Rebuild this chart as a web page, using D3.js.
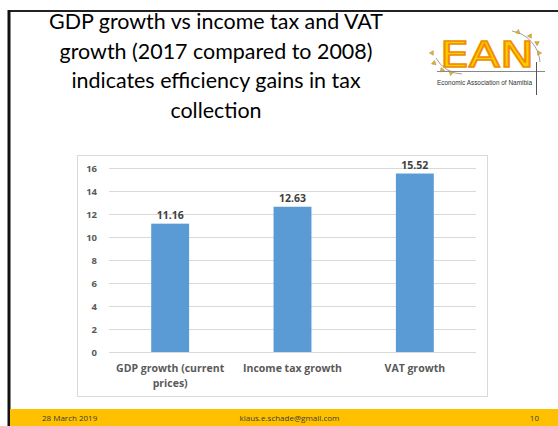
<!DOCTYPE html>
<html><head><meta charset="utf-8">
<script src="https://cdn.jsdelivr.net/npm/d3@7"></script>
<style>body{margin:0;background:#fff}svg{display:block}</style>
</head><body>
<svg id="c" width="558" height="426"></svg>
<script>
const titleLines = ["GDP growth vs income tax and VAT", "growth (2017 compared to 2008)", "indicates efficiency gains in tax", "collection"];
const categories = [["GDP growth (current", "prices)"], ["Income tax growth"], ["VAT growth"]];
const values = [11.16, 12.63, 15.52];
const valueLabels = ["11.16", "12.63", "15.52"];
const yTicks = [0, 2, 4, 6, 8, 10, 12, 14, 16];
const footer = ["28 March 2019", "klaus.e.schade@gmail.com", "10"];
const logoText = "Economic Association of Namibia";

const svg = d3.select("#c");
const font = "Lato, 'Open Sans', sans-serif";

// slide frame
svg.append("line").attr("x1", 9).attr("x2", 558).attr("y1", 11).attr("y2", 11).attr("stroke", "#222").attr("stroke-width", 2);
svg.append("line").attr("x1", 9).attr("x2", 9).attr("y1", 10).attr("y2", 426).attr("stroke", "#111").attr("stroke-width", 3);

// title
const tg = svg.append("g");
const t0 = tg.append("text").attr("font-family", font).attr("font-size", 22).text(titleLines[0]);
const w0 = t0.node().getComputedTextLength();
t0.remove();
const tSize = 22 * 334 / w0;
titleLines.forEach((l, i) => {
  tg.append("text").attr("x", 216).attr("y", 29 + i * 29.7).attr("text-anchor", "middle")
    .attr("font-family", font).attr("font-size", tSize).attr("fill", "#000").text(l);
});

// logo
const lg = svg.append("g");
lg.append("path").attr("d", "M436,58 A30,30 0 0 0 462,74").attr("fill", "none").attr("stroke", "#888").attr("stroke-width", 0.8);
lg.append("path").attr("d", "M512,31 A34,34 0 0 1 540,62").attr("fill", "none").attr("stroke", "#888").attr("stroke-width", 0.8);
lg.append("line").attr("x1", 437).attr("x2", 545).attr("y1", 71.5).attr("y2", 71.5).attr("stroke", "#888").attr("stroke-width", 1);
lg.append("line").attr("x1", 536.5).attr("x2", 536.5).attr("y1", 62).attr("y2", 95).attr("stroke", "#555").attr("stroke-width", 1);
lg.append("text").attr("x", 487).attr("y", 67).attr("text-anchor", "middle").attr("font-family", "'DejaVu Sans', sans-serif")
  .attr("font-size", 35).attr("fill", "#ffcc00").attr("stroke", "#f08c00").attr("stroke-width", 1.6).attr("textLength", 94).attr("lengthAdjust", "spacingAndGlyphs").text("EAN");
[[432,53,-90],[434,63,-110],[442,70,-140],[451,73,-170],[518,32,10],[530,36,30],[537,43,60],[539,53,90]].forEach(p => {
  lg.append("path").attr("d", d3.symbol(d3.symbolTriangle, 9)()).attr("transform", `translate(${p[0]},${p[1]}) rotate(${p[2]})`).attr("fill", "#f5b400").attr("stroke", "#777").attr("stroke-width", 0.4);
});
lg.append("text").attr("x", 484.5).attr("y", 84.5).attr("text-anchor", "middle").attr("font-family", "'Liberation Sans Narrow', 'Liberation Sans', sans-serif")
  .attr("font-size", 6.5).attr("fill", "#333").attr("textLength", 95).attr("lengthAdjust", "spacingAndGlyphs").text(logoText);

// chart box
svg.append("rect").attr("x", 77.5).attr("y", 155.5).attr("width", 410).attr("height", 241).attr("fill", "#fff").attr("stroke", "#d9d9d9");

const x = d3.scaleBand().domain(d3.range(values.length)).range([109, 476]).paddingInner(0.69).paddingOuter(0.345);
const y = d3.scaleLinear().domain([0, 16]).range([352, 168]);

const g = svg.append("g");
g.selectAll("line.grid").data(yTicks).join("line").attr("class", "grid")
  .attr("x1", 109).attr("x2", 476).attr("y1", d => Math.round(y(d)) + 0.5).attr("y2", d => Math.round(y(d)) + 0.5)
  .attr("stroke", "#d9d9d9").attr("stroke-width", 1);

const yAxis = d3.axisLeft(y).tickValues(yTicks).tickSize(0).tickPadding(12);
const ya = g.append("g").attr("transform", "translate(109,0)").call(yAxis);
ya.select(".domain").remove();
ya.selectAll("text").attr("font-family", "'Open Sans', sans-serif").attr("font-weight", "bold").attr("font-size", 9.5).attr("fill", "#595959");

g.selectAll("rect.bar").data(values).join("rect").attr("class", "bar")
  .attr("x", (d, i) => x(i)).attr("width", x.bandwidth())
  .attr("y", d => y(d)).attr("height", d => y(0) - y(d)).attr("fill", "#5b9bd5");

g.selectAll("text.val").data(values).join("text").attr("class", "val")
  .attr("x", (d, i) => x(i) + x.bandwidth() / 2).attr("y", d => y(d) - 4.5)
  .attr("text-anchor", "middle").attr("font-family", "'Open Sans', sans-serif").attr("font-weight", "bold")
  .attr("font-size", 10.5).attr("fill", "#404040").text((d, i) => valueLabels[i]);

const xAxis = d3.axisBottom(x).tickSize(0).tickFormat(() => "");
const xa = g.append("g").attr("transform", "translate(0,352)").call(xAxis);
xa.select(".domain").attr("stroke", "#d9d9d9").attr("d", "M109,0.5H476");
categories.forEach((lines, i) => {
  lines.forEach((l, j) => {
    g.append("text").attr("x", x(i) + x.bandwidth() / 2).attr("y", 371.5 + j * 15).attr("text-anchor", "middle")
      .attr("font-family", "'Open Sans', sans-serif").attr("font-weight", "bold").attr("font-size", 10.5).attr("fill", "#595959").text(l);
  });
});

// footer
svg.append("rect").attr("x", 10).attr("y", 409).attr("width", 548).attr("height", 17).attr("fill", "#ffc000");
const fx = [[42, "start"], [289.5, "middle"], [539, "end"]];
footer.forEach((t, i) => {
  svg.append("text").attr("x", fx[i][0]).attr("y", 420.5).attr("text-anchor", fx[i][1])
    .attr("font-family", "'Open Sans', sans-serif").attr("font-size", 8).attr("fill", "#3a3a3a").text(t);
});
</script>
</body></html>
